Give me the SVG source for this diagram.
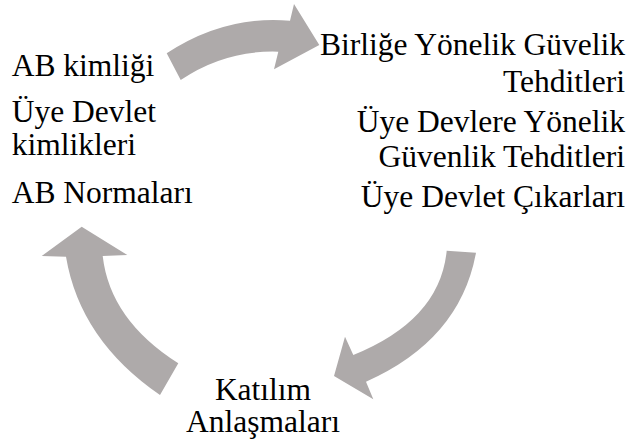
<svg xmlns="http://www.w3.org/2000/svg" width="631" height="446" viewBox="0 0 631 446">
<style>
text{font-family:'Liberation Serif','Times New Roman',serif;font-size:31.5px;fill:#000}
.r{text-anchor:end}
.m{text-anchor:middle}
.a{fill:#aeaaaa}
</style>
<rect width="631" height="446" fill="#fff"/>
<g id="connectors">
<path class="a" d="M166.7,53.3 Q225,15 290,20.7 L294,4 L319.3,45 L274,69.3 L278.3,51.7 Q225,50 180.7,80 Z"/>
<path class="a" d="M446.7,250.7 L476,252.7 Q460,340 366,381.7 L373.3,399.3 L334,376 L345,336.7 L353.3,355 Q440,320 446.7,250.7 Z"/>
<path class="a" d="M66,256.7 L41.7,256 L81.7,226.7 L127.3,255 L102.7,256 Q110,320 178.3,363.3 L160,395 Q80,340 66,256.7 Z"/>
</g>
<g id="node-left">
<text x="11.7" y="76">AB kimliği</text>
<text x="11.7" y="121.7">Üye Devlet</text>
<text x="11.7" y="155">kimlikleri</text>
<text x="11.7" y="203.3">AB Normaları</text>
</g>
<g id="node-right">
<text class="r" x="625" y="55">Birliğe Yönelik Güvelik</text>
<text class="r" x="625" y="91.7">Tehditleri</text>
<text class="r" x="625" y="131.7">Üye Devlere Yönelik</text>
<text class="r" x="625" y="166.7">Güvenlik Tehditleri</text>
<text class="r" x="625" y="206.7">Üye Devlet Çıkarları</text>
</g>
<g id="node-bottom">
<text class="m" x="263" y="400">Katılım</text>
<text class="m" x="263" y="431.7">Anlaşmaları</text>
</g>
</svg>
